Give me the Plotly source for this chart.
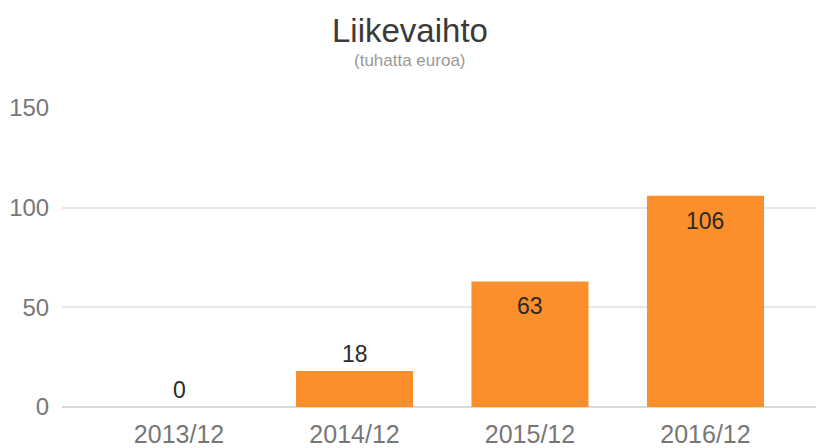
import plotly.graph_objects as go

categories = ["2013/12", "2014/12", "2015/12", "2016/12"]
values = [0, 18, 63, 106]
label_inside = [False, False, True, True]
y_ticks = [0, 50, 100, 150]

FONT = "Arial, 'Liberation Sans', sans-serif"
ORANGE = "#FB8F2B"

xs = list(range(len(categories)))

fig = go.Figure()
fig.add_trace(go.Bar(
    x=xs,
    y=values,
    width=0.667,
    marker=dict(color=ORANGE, line=dict(width=0)),
    hoverinfo="skip",
))

annotations = [
    dict(text="Liikevaihto", xref="paper", yref="paper", x=0.4615, y=1.26,
         xanchor="center", yanchor="middle", showarrow=False,
         font=dict(family=FONT, size=33, color="#3a3a3a")),
    dict(text="(tuhatta euroa)", xref="paper", yref="paper", x=0.4615, y=1.158,
         xanchor="center", yanchor="middle", showarrow=False,
         font=dict(family=FONT, size=17, color="#999999")),
]
for x, v, inside in zip(xs, values, label_inside):
    annotations.append(dict(
        text=str(v), x=x, y=v, xref="x", yref="y",
        xanchor="center", yanchor="middle", showarrow=False,
        yshift=-25 if inside else 17,
        font=dict(family=FONT, size=23, color="#2a2a2a"),
    ))

fig.update_layout(
    width=816, height=448,
    margin=dict(l=62, r=0, t=108, b=36),
    paper_bgcolor="white",
    plot_bgcolor="white",
    showlegend=False,
    font=dict(family=FONT),
    xaxis=dict(
        range=[-0.667, 3.63],
        tickmode="array",
        tickvals=xs,
        ticktext=categories,
        tickfont=dict(family=FONT, size=25, color="#777777"),
        ticks="outside", ticklen=5, tickcolor="rgba(0,0,0,0)",
        showgrid=False, zeroline=False, showline=False,
    ),
    yaxis=dict(
        range=[0, 150],
        tickmode="array",
        tickvals=y_ticks,
        tickfont=dict(family=FONT, size=24, color="#777777"),
        ticks="outside", ticklen=7, tickcolor="rgba(0,0,0,0)",
        showgrid=True, gridcolor="#e8e8e8", gridwidth=2,
        zeroline=True, zerolinecolor="#d8dbde", zerolinewidth=2,
        showline=False,
    ),
    annotations=annotations,
)

fig.write_html("out.html")
